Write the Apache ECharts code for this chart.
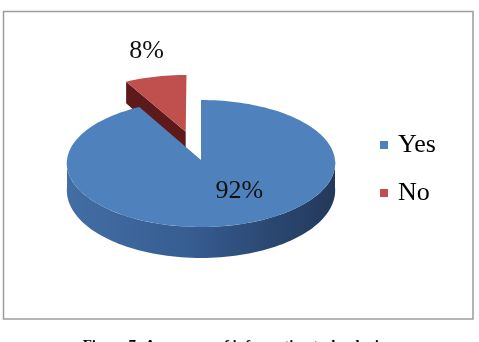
<!DOCTYPE html>
<html>
<head>
<meta charset="utf-8">
<script src="https://cdn.jsdelivr.net/npm/echarts@6/dist/echarts.min.js"></script>
<style>html,body{margin:0;padding:0;background:#fff;}#c{width:479px;height:342px;}</style>
</head>
<body>
<div id="c"></div>
<script>
// ---- data ----
const categories = ['Yes', 'No'];
const values = [92, 8];
const caption = 'Figure 7: Awareness of information technologies';

// ---- style / geometry config ----
const topColors = ['#4f81bd', '#c0504d'];
const explode = [0, 0.47];
const labelDisk = [[0.28, 0.48], [-0.45, -1.91]];
const G = {cx: 201, cy: 160, rx: 134, a: 63.5, b: 3.5, c: 0.05, d0: 27, d1: 4};
const total = values.reduce((s, v) => s + v, 0);

function proj(u, v, h) {
  return [G.cx + u * G.rx * (1 + G.c * v), G.cy + G.a * v + G.b * v * v + h * (G.d0 + G.d1 * v)];
}
function pt(theta, r, off, h) {
  const t = theta * Math.PI / 180;
  return proj(off[0] + r * Math.sin(t), off[1] - r * Math.cos(t), h);
}
function arc(a0, a1, off, h) {
  const pts = [];
  const n = Math.max(2, Math.ceil(Math.abs(a1 - a0) / 2));
  for (let k = 0; k <= n; k++) pts.push(pt(a0 + (a1 - a0) * k / n, 1, off, h));
  return pts;
}

function makeRender(idx) {
  return function (params, api) {
    const val = api.value(0);
    let before = 0;
    for (let i = 0; i < idx; i++) before += values[i];
    const s = before / total * 360;
    const e = s + val / total * 360;
    const mid = (s + e) / 2 * Math.PI / 180;
    const off = [explode[idx] * Math.sin(mid), -explode[idx] * Math.cos(mid)];
    const children = [];
    const isBlue = idx === 0;
    // radial faces (only those facing the viewer)
    [[s, -1], [e, 1]].forEach(([ang, sign]) => {
      const t = ang * Math.PI / 180;
      const nv = sign * Math.sin(t);
      if (nv > 0.05) {
        const c0 = proj(off[0], off[1], 0), c1 = proj(off[0], off[1], 1);
        const p0 = pt(ang, 1, off, 0), p1 = pt(ang, 1, off, 1);
        children.push({type: 'polygon', shape: {points: [c0, p0, p1, c1]},
          style: {fill: isBlue ? '#2c4a73' : '#5c1b1a'}});
      }
    });
    // outer wall (front half)
    const w0 = Math.max(s, 90), w1 = Math.min(e, 270);
    if (w1 > w0) {
      const top = arc(w0, w1, off, 0);
      const bot = arc(w1, w0, off, 1);
      children.push({type: 'polygon', shape: {points: top.concat(bot)},
        style: {fill: new echarts.graphic.LinearGradient(0, 0, 1, 0, isBlue ? [
          {offset: 0, color: '#426ea5'}, {offset: 0.45, color: '#375d92'},
          {offset: 0.75, color: '#2b4872'}, {offset: 1, color: '#23395b'}] : [
          {offset: 0, color: '#9c3c39'}, {offset: 1, color: '#6a2523'}])}});
    }
    // top face
    const topPts = [proj(off[0], off[1], 0)].concat(arc(s, e, off, 0));
    children.push({type: 'polygon', shape: {points: topPts}, style: {fill: topColors[idx]}});
    // label
    const lp = proj(labelDisk[idx][0], labelDisk[idx][1], 0);
    children.push({type: 'text', x: lp[0], y: lp[1], z2: 10,
      style: {text: Math.round(val / total * 100) + '%', align: 'center', verticalAlign: 'middle',
        font: '26px "Liberation Serif"', fill: '#111'}});
    return {type: 'group', children: children};
  };
}

const chart = echarts.init(document.getElementById('c'), null, {renderer: 'canvas'});
chart.setOption({
  animation: false,
  backgroundColor: '#fff',
  legend: {
    data: categories, orient: 'vertical', left: 375, top: 127, icon: 'rect',
    itemWidth: 8, itemHeight: 8, itemGap: 22,
    textStyle: {fontFamily: 'Liberation Serif', fontSize: 26, color: '#000', lineHeight: 26, padding: [0, 0, 0, 5]}
  },
  graphic: [
    {type: 'rect', shape: {x: 3.5, y: 11.5, width: 469.5, height: 307.5},
      style: {fill: 'none', stroke: '#9c9c9c', lineWidth: 1.5}, z: -1},
    {type: 'text', x: 237, y: 339, style: {text: caption, align: 'center', verticalAlign: 'top',
      font: 'bold 15px "Liberation Serif"', fill: '#000'}}
  ],
  series: categories.map((name, i) => ({
    type: 'custom', name: name, coordinateSystem: 'none', z: i === 0 ? 3 : 2,
    itemStyle: {color: topColors[i]}, data: [[values[i]]], renderItem: makeRender(i)
  }))
});
</script>
</body>
</html>
